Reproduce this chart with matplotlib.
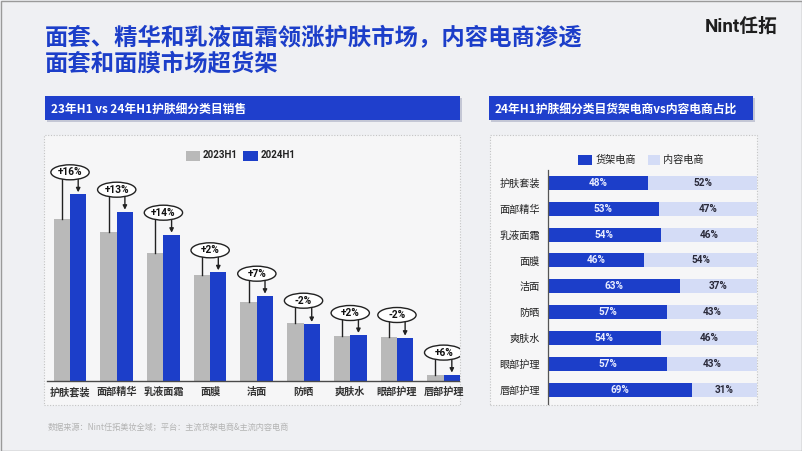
import matplotlib
matplotlib.use("Agg")
import matplotlib.pyplot as plt
from matplotlib.patches import Rectangle, Ellipse

# data (arbitrary sales units)
categories = ['护肤套装', '面部精华', '乳液面霜', '面膜', '洁面', '防晒', '爽肤水', '眼部护理', '唇部护理']
sales_2023 = [161.7, 149.3, 128.5, 106.3, 79.0, 58.3, 45.0, 44.0, 6.0]
sales_2024 = [186.7, 169.3, 146.3, 108.7, 85.3, 57.0, 46.0, 43.3, 6.4]
growth_labels = ['+16%', '+13%', '+14%', '+2%', '+7%', '-2%', '+2%', '-2%', '+6%']

shelf_share = [48, 53, 54, 46, 63, 57, 54, 57, 69]
content_share = [52, 47, 46, 54, 37, 43, 46, 43, 31]

BLUE = '#1c3ec9'
LIGHT = '#d4dcf6'
GRAY = '#b9b9b9'
CJK = ['Noto Sans CJK SC', 'DejaVu Sans']
LAT = ['Roboto', 'Noto Sans CJK SC']

W, H = 802, 451
fig = plt.figure(figsize=(W / 100, H / 100), dpi=100)
fig.patch.set_facecolor('#eff0f3')


def box(x0, y0, x1, y1):
    return [x0 / W, 1 - y1 / H, (x1 - x0) / W, (y1 - y0) / H]


def frect(x0, y0, x1, y1, **kw):
    fig.patches.append(Rectangle((x0 / W, 1 - y1 / H), (x1 - x0) / W, (y1 - y0) / H,
                                 transform=fig.transFigure, **kw))


# outer border
frect(0.5, 0.5, W - 0.5, H - 0.5, facecolor='none', edgecolor='#9a9a9a', lw=1, zorder=-5)

# title and logo
fig.text(45 / W, 1 - 38.5 / H, '面套、精华和乳液面霜领涨护肤市场，内容电商渗透', family=CJK,
         fontsize=16.8, fontweight='bold', color=BLUE, va='center')
fig.text(45 / W, 1 - 63.5 / H, '面套和面膜市场超货架', family=CJK,
         fontsize=16.8, fontweight='bold', color=BLUE, va='center')
fig.text(777 / W, 1 - 27 / H, 'Nint任拓', family=LAT, fontsize=13.5, fontweight='bold',
         color='#1e1e1e', ha='right', va='center')

# panels
frect(44, 135, 460, 405, facecolor='#f6f6f7', edgecolor='#c4c4c4', lw=0.8, ls=(0, (1, 1.5)), zorder=-5)
frect(490, 135, 757, 405, facecolor='#f6f6f7', edgecolor='#c4c4c4', lw=0.8, ls=(0, (1, 1.5)), zorder=-5)

# banners
frect(47, 98, 462, 122, facecolor='#9aa0b8', edgecolor='none', alpha=0.5)
frect(45, 96, 460, 120, facecolor='#1f3fcc', edgecolor='none')
fig.text(51 / W, 1 - 109 / H, '23年H1 vs 24年H1护肤细分类目销售', family=CJK, fontsize=8.5,
         fontweight='bold', color='white', va='center')
frect(491, 98, 755, 122, facecolor='#9aa0b8', edgecolor='none', alpha=0.5)
frect(489, 96, 753, 120, facecolor='#1f3fcc', edgecolor='none')
fig.text(495 / W, 1 - 109 / H, '24年H1护肤细分类目货架电商vs内容电商占比', family=CJK, fontsize=8.5,
         fontweight='bold', color='white', va='center')

# ---- left: grouped bars ----
ax1 = fig.add_axes(box(44, 135, 460, 381))
ax1.set_xlim(-0.557, 8.35)
ax1.set_ylim(0, 246)
ax1.axis('off')
bw = 0.35
xs = list(range(len(categories)))
ax1.bar([x - bw / 2 for x in xs], sales_2023, width=bw, color=GRAY)
ax1.bar([x + bw / 2 for x in xs], sales_2024, width=bw, color=BLUE)
ax1.plot([-0.49, 8.33], [0, 0], color='#4a4a4a', lw=1, clip_on=False)
for x, name in zip(xs, categories):
    ax1.text(x, -11, name, family=CJK, fontsize=7.3, fontweight='bold', color='#333333',
             ha='center', va='center')

for x, a, b, lab in zip(xs, sales_2023, sales_2024, growth_labels):
    cy = max(a, b) + 22
    ax1.plot([x - bw / 2, x - bw / 2], [a, cy - 6], color='#222222', lw=1)
    ax1.annotate('', xy=(x + bw / 2, b + 2), xytext=(x + bw / 2, cy - 6),
                 arrowprops=dict(arrowstyle='-|>', color='#222222', lw=1,
                                 mutation_scale=6, shrinkA=0, shrinkB=0))
    ax1.add_patch(Ellipse((x, cy), 0.82, 15, facecolor='white', edgecolor='#222222', lw=1, zorder=3))
    ax1.text(x, cy, lab, family=LAT, fontsize=7.3, fontweight='bold', color='#111111',
             ha='center', va='center', zorder=4)

# left legend
frect(186, 150.5, 200, 160.5, facecolor=GRAY, edgecolor='none')
fig.text(203 / W, 1 - 155.5 / H, '2023H1', family=LAT, fontsize=7, fontweight='bold',
         color='#222222', va='center')
frect(243, 150.5, 258, 160.5, facecolor=BLUE, edgecolor='none')
fig.text(261 / W, 1 - 155.5 / H, '2024H1', family=LAT, fontsize=7, fontweight='bold',
         color='#222222', va='center')

# ---- right: 100% stacked bars ----
ax2 = fig.add_axes(box(548, 170, 757, 404))
ax2.set_xlim(0, 100)
ax2.set_ylim(8.54, -0.49)
ys = list(range(len(categories)))
ax2.barh(ys, shelf_share, height=0.54, color=BLUE)
ax2.barh(ys, content_share, left=shelf_share, height=0.54, color=LIGHT)
for y, s, c in zip(ys, shelf_share, content_share):
    ax2.text(s / 2, y, f'{s}%', family=LAT, fontsize=7.2, fontweight='bold', color='#e8ecff',
             ha='center', va='center')
    ax2.text(s + c / 2, y, f'{c}%', family=LAT, fontsize=7.2, fontweight='bold', color='#2a2a3a',
             ha='center', va='center')
ax2.set_xticks([])
ax2.set_yticks(ys)
ax2.set_yticklabels(categories, family=CJK, fontsize=7.3, color='#222222')
ax2.tick_params(axis='y', length=0, pad=6)
for s in ['top', 'right', 'bottom']:
    ax2.spines[s].set_visible(False)
ax2.spines['left'].set_color('#555555')
ax2.spines['left'].set_linewidth(0.9)
ax2.patch.set_alpha(0)

# right legend
frect(578, 155, 592, 165, facecolor=BLUE, edgecolor='none')
fig.text(596 / W, 1 - 160 / H, '货架电商', family=CJK, fontsize=7.3, color='#222222', va='center')
frect(648, 155, 660, 165, facecolor=LIGHT, edgecolor='none')
fig.text(663 / W, 1 - 160 / H, '内容电商', family=CJK, fontsize=7.3, color='#222222', va='center')

# footnote
fig.text(48 / W, 1 - 427 / H, '数据来源：Nint任拓美妆全域；平台：主流货架电商&主流内容电商', family=CJK,
         fontsize=5.9, color='#b3b3b3', va='center')

fig.savefig('out.png', dpi=100, facecolor=fig.get_facecolor())
